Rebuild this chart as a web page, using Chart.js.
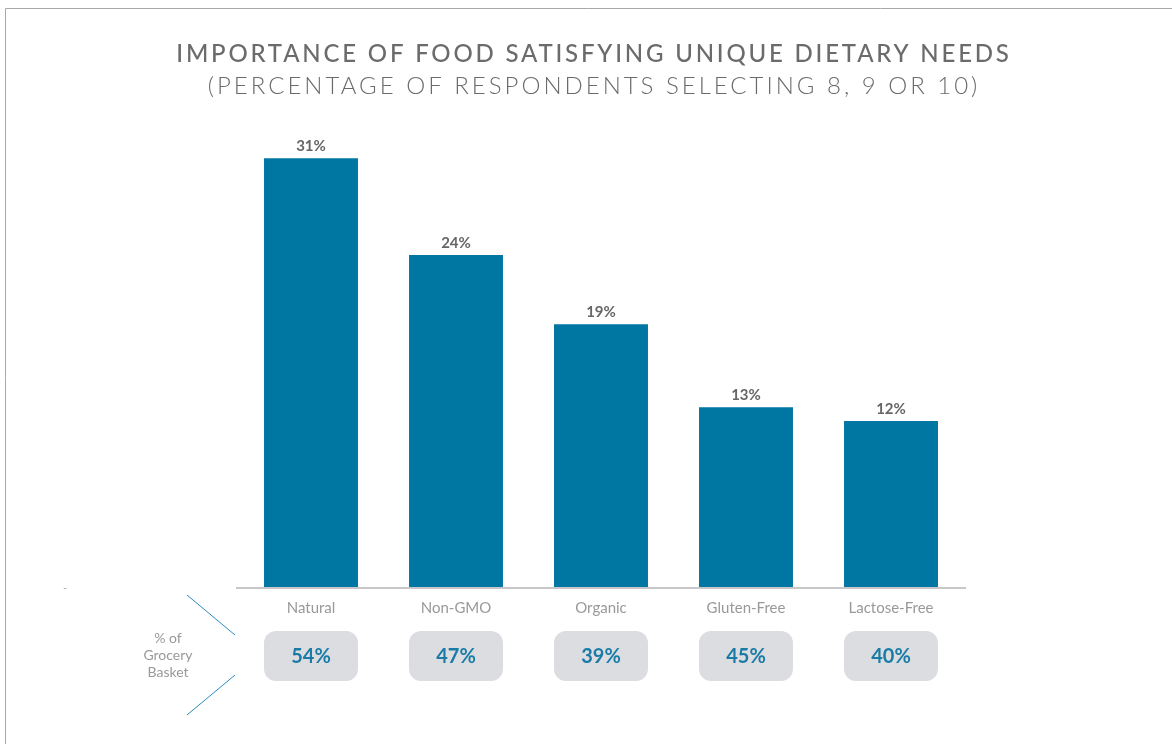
<!DOCTYPE html>
<html>
<head>
<meta charset="utf-8">
<script src="https://cdn.jsdelivr.net/npm/chart.js@4/dist/chart.umd.min.js"></script>
<style>
  html, body { margin: 0; padding: 0; background: #fff; }
  #wrap { width: 1172px; height: 744px; position: relative; }
</style>
</head>
<body>
<div id="wrap"><canvas id="dietChart" width="1172" height="744"></canvas></div>
<script>
(function () {
  const categories = ['Natural', 'Non-GMO', 'Organic', 'Gluten-Free', 'Lactose-Free'];
  const importance = [31, 24, 19, 13, 12];
  const basketShare = [54, 47, 39, 45, 40];
  const titleLines = ['IMPORTANCE OF FOOD SATISFYING UNIQUE DIETARY NEEDS', '(PERCENTAGE OF RESPONDENTS SELECTING 8, 9 OR 10)'];
  const basketLabel = ['% of', 'Grocery', 'Basket'];

  const FONT = 'Lato, "Open Sans", sans-serif';
  const BAR = '#0077a3';

  // frame, title, value labels, grocery basket row
  const decor = {
    id: 'decor',
    beforeDraw(chart) {
      const c = chart.ctx;
      c.save();
      c.strokeStyle = '#a8a8a8';
      c.lineWidth = 1;
      c.beginPath();
      c.moveTo(5.5, 744);
      c.lineTo(5.5, 8.5);
      c.lineTo(1172, 8.5);
      c.stroke();

      c.fillStyle = '#6b6b6b';
      c.textAlign = 'center';
      c.textBaseline = 'middle';
      c.letterSpacing = '2.8px';
      c.font = '500 24px ' + FONT;
      c.fillText(titleLines[0], 594, 54);
      c.letterSpacing = '3px';
      c.font = '300 24px ' + FONT;
      c.fillText(titleLines[1], 594, 86);
      c.letterSpacing = '0px';
      c.restore();
    },
    afterDatasetsDraw(chart) {
      const c = chart.ctx;
      const meta = chart.getDatasetMeta(0);
      const base = chart.scales.y.getPixelForValue(0);
      c.save();
      c.strokeStyle = '#c8c8ca';
      c.lineWidth = 2;
      c.beginPath();
      c.moveTo(236, base + 1);
      c.lineTo(966, base + 1);
      c.stroke();

      c.textAlign = 'center';
      c.textBaseline = 'middle';
      meta.data.forEach((bar, i) => {
        c.fillStyle = '#666';
        c.font = 'bold 15px ' + FONT;
        c.fillText(importance[i] + '%', bar.x, bar.y - 12);

        const w = bar.width;
        c.fillStyle = '#dcdde1';
        c.beginPath();
        c.roundRect(bar.x - w / 2, 631, w, 50, 12);
        c.fill();
        c.fillStyle = '#1a7ca6';
        c.font = 'bold 20px ' + FONT;
        c.fillText(basketShare[i] + '%', bar.x, 657);
      });

      c.fillStyle = '#999';
      c.font = '14px ' + FONT;
      basketLabel.forEach((t, i) => c.fillText(t, 168, 638 + i * 17));

      c.strokeStyle = '#2a8abf';
      c.lineWidth = 1;
      c.beginPath();
      c.moveTo(187, 595); c.lineTo(235, 635);
      c.moveTo(187, 715); c.lineTo(235, 675);
      c.stroke();

      c.fillStyle = '#aaa';
      c.font = '11px ' + FONT;
      c.fillText('-', 65, 588);
      c.restore();
    }
  };

  new Chart(document.getElementById('dietChart').getContext('2d'), {
    type: 'bar',
    data: {
      labels: categories,
      datasets: [{
        data: importance,
        backgroundColor: BAR,
        borderWidth: 0,
        categoryPercentage: 1,
        barPercentage: 0.648
      }]
    },
    options: {
      responsive: false,
      animation: false,
      layout: { padding: { left: 238.5, right: 208.5, top: 103, bottom: 0 } },
      plugins: { legend: { display: false }, tooltip: { enabled: false }, title: { display: false } },
      scales: {
        x: {
          grid: { display: false, drawTicks: false },
          border: { display: false },
          ticks: { color: '#999', font: { family: FONT, size: 15 }, padding: 12 },
          afterFit(scale) { scale.height = 157; }
        },
        y: { display: false, min: 0, max: 35 }
      }
    },
    plugins: [decor]
  });
})();
</script>
</body>
</html>
